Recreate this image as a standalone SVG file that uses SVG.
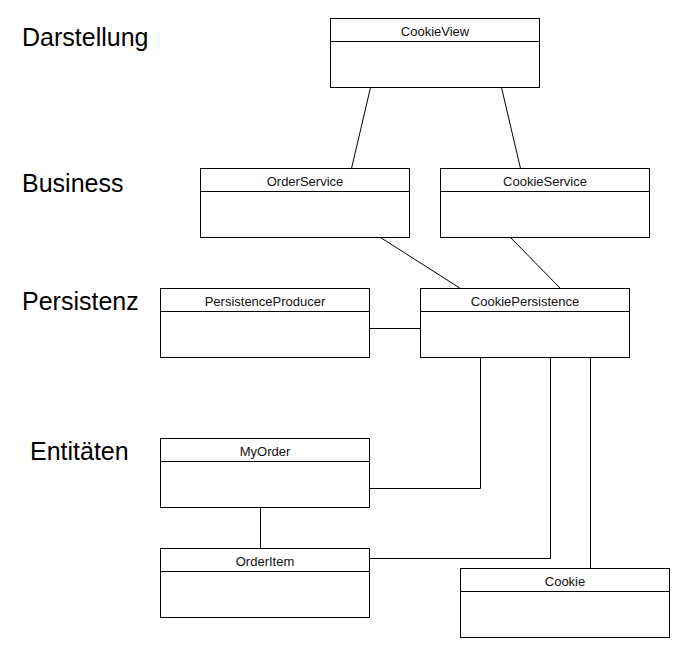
<svg xmlns="http://www.w3.org/2000/svg" width="687" height="660" viewBox="0 0 687 660">
<style>
.box{fill:#fff;stroke:#000;stroke-width:1}
.hdr{stroke:#000;stroke-width:1}
.name{font-family:"Liberation Sans",Arial,sans-serif;font-size:13px;fill:#111;text-anchor:middle}
.layer{font-family:"Liberation Sans",Arial,sans-serif;font-size:25px;fill:#000}
.conn{fill:none;stroke:#000;stroke-width:1}
</style>
<rect width="687" height="660" fill="#fff"/>
<g id="layers">
<text class="layer" x="22" y="46">Darstellung</text>
<text class="layer" x="22" y="192">Business</text>
<text class="layer" x="22" y="310">Persistenz</text>
<text class="layer" x="30" y="460">Entitäten</text>
</g>
<g id="connectors">
<line class="conn" x1="370.5" y1="87.5" x2="351.5" y2="168.5"/>
<line class="conn" x1="501.5" y1="87.5" x2="520.5" y2="168.5"/>
<line class="conn" x1="380.5" y1="237.5" x2="460.5" y2="288.5"/>
<line class="conn" x1="510.5" y1="237.5" x2="560.5" y2="288.5"/>
<line class="conn" x1="369.5" y1="328.5" x2="420.5" y2="328.5"/>
<polyline class="conn" points="480.5,357.5 480.5,488.5 369.5,488.5"/>
<polyline class="conn" points="550.5,357.5 550.5,558.5 369.5,558.5"/>
<line class="conn" x1="590.5" y1="357.5" x2="590.5" y2="568.5"/>
<line class="conn" x1="260.5" y1="507.5" x2="260.5" y2="548.5"/>
</g>
<g id="CookieView">
<rect class="box" x="330.5" y="18.5" width="209" height="69"/>
<line class="hdr" x1="330.5" y1="41.5" x2="539.5" y2="41.5"/>
<text class="name" x="435" y="36">CookieView</text>
</g>
<g id="OrderService">
<rect class="box" x="200.5" y="168.5" width="209" height="69"/>
<line class="hdr" x1="200.5" y1="191.5" x2="409.5" y2="191.5"/>
<text class="name" x="305" y="186">OrderService</text>
</g>
<g id="CookieService">
<rect class="box" x="440.5" y="168.5" width="209" height="69"/>
<line class="hdr" x1="440.5" y1="191.5" x2="649.5" y2="191.5"/>
<text class="name" x="545" y="186">CookieService</text>
</g>
<g id="PersistenceProducer">
<rect class="box" x="160.5" y="288.5" width="209" height="69"/>
<line class="hdr" x1="160.5" y1="311.5" x2="369.5" y2="311.5"/>
<text class="name" x="265" y="306">PersistenceProducer</text>
</g>
<g id="CookiePersistence">
<rect class="box" x="420.5" y="288.5" width="209" height="69"/>
<line class="hdr" x1="420.5" y1="311.5" x2="629.5" y2="311.5"/>
<text class="name" x="525" y="306">CookiePersistence</text>
</g>
<g id="MyOrder">
<rect class="box" x="160.5" y="438.5" width="209" height="69"/>
<line class="hdr" x1="160.5" y1="461.5" x2="369.5" y2="461.5"/>
<text class="name" x="265" y="456">MyOrder</text>
</g>
<g id="OrderItem">
<rect class="box" x="160.5" y="548.5" width="209" height="69"/>
<line class="hdr" x1="160.5" y1="571.5" x2="369.5" y2="571.5"/>
<text class="name" x="265" y="566">OrderItem</text>
</g>
<g id="Cookie">
<rect class="box" x="460.5" y="568.5" width="209" height="69"/>
<line class="hdr" x1="460.5" y1="591.5" x2="669.5" y2="591.5"/>
<text class="name" x="565" y="586">Cookie</text>
</g>
</svg>
